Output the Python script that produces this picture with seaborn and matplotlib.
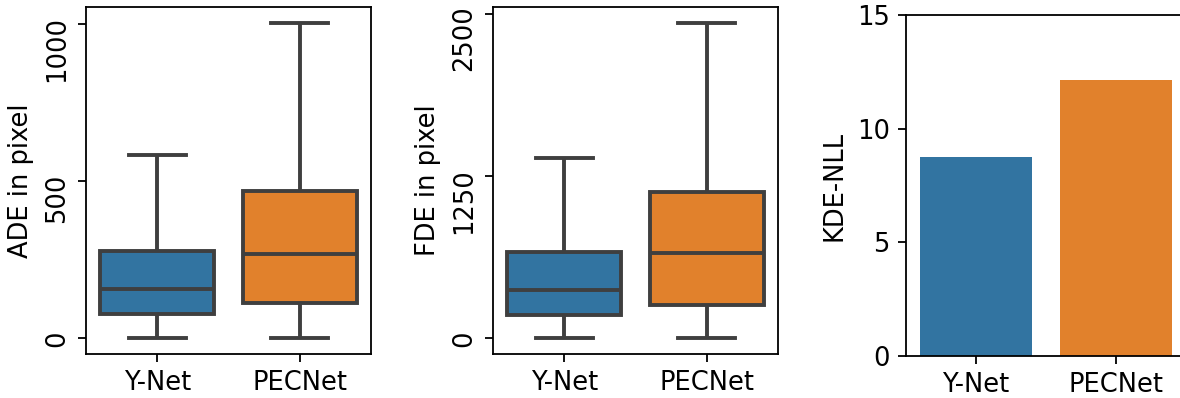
import numpy as np
import pandas as pd
import matplotlib
matplotlib.use("Agg")
import matplotlib.pyplot as plt
import matplotlib.transforms as mtrans
import seaborn as sns

plt.rcParams['font.family'] = ['DejaVu Sans']

models = ["Y-Net", "PECNet"]
# five-number summaries (min, Q1, median, Q3, max)
ade_ynet = [0, 78, 157, 279, 583]
ade_pecnet = [0, 113, 267, 470, 1004]
fde_ynet = [0, 180, 373, 663, 1391]
fde_pecnet = [0, 257, 656, 1124, 2430]
kde_nll = [8.74, 12.13]

ade_ticks = [0, 500, 1000]
fde_ticks = [0, 1250, 2500]
kde_ticks = [0, 5, 10, 15]

ade_df = pd.DataFrame({"model": ["Y-Net"] * len(ade_ynet) + ["PECNet"] * len(ade_pecnet),
                       "val": ade_ynet + ade_pecnet})
fde_df = pd.DataFrame({"model": ["Y-Net"] * len(fde_ynet) + ["PECNet"] * len(fde_pecnet),
                       "val": fde_ynet + fde_pecnet})
kde_df = pd.DataFrame({"model": models, "val": kde_nll})

pal = ["#1f77b4", "#ff7f0e"]
FS = 18.5

fig = plt.figure(figsize=(11.8, 3.98), dpi=100)
W, H = 1180, 398
def pos(l, r, t, b):
    return [l / W, 1 - b / H, (r - l) / W, (b - t) / H]

ax1 = fig.add_axes(pos(86, 371, 7, 354))
ax2 = fig.add_axes(pos(493, 778, 7, 354))
ax3 = fig.add_axes(pos(906, 1186, 15, 356))

box_kw = dict(palette=pal, hue="model", legend=False, whis=(0, 100),
              linecolor="#3f3f3f", linewidth=2.8, saturation=0.75, width=0.8)

sns.boxplot(data=ade_df, x="model", y="val", order=models, hue_order=models, ax=ax1, **box_kw)
sns.boxplot(data=fde_df, x="model", y="val", order=models, hue_order=models, ax=ax2, **box_kw)
sns.barplot(data=kde_df, x="model", y="val", order=models, hue="model", hue_order=models,
            palette=pal, legend=False, saturation=0.75, ax=ax3)

ax1.set_yticks(ade_ticks)
ax1.set_ylabel("ADE in pixel", fontsize=FS, labelpad=7)
ax2.set_yticks(fde_ticks)
ax2.set_ylabel("FDE in pixel", fontsize=FS, labelpad=7)

ax3.set_ylim(0, 15)
ax3.set_yticks(kde_ticks)
ax3.set_ylabel("KDE-NLL", fontsize=FS, labelpad=7)

for ax in (ax1, ax2, ax3):
    ax.set_xlabel("")
    ax.tick_params(labelsize=FS, length=5.8, width=1.3, pad=5.8)
    for s in ax.spines.values():
        s.set_linewidth(1.3)
        s.set_color("black")

shift = mtrans.ScaledTranslation(0, 0.08, fig.dpi_scale_trans)
for ax in (ax1, ax2):
    for lab in ax.get_yticklabels():
        lab.set_rotation(90)
        lab.set_va("top")
        lab.set_transform(lab.get_transform() + shift)

fig.savefig("out.png", dpi=100)
